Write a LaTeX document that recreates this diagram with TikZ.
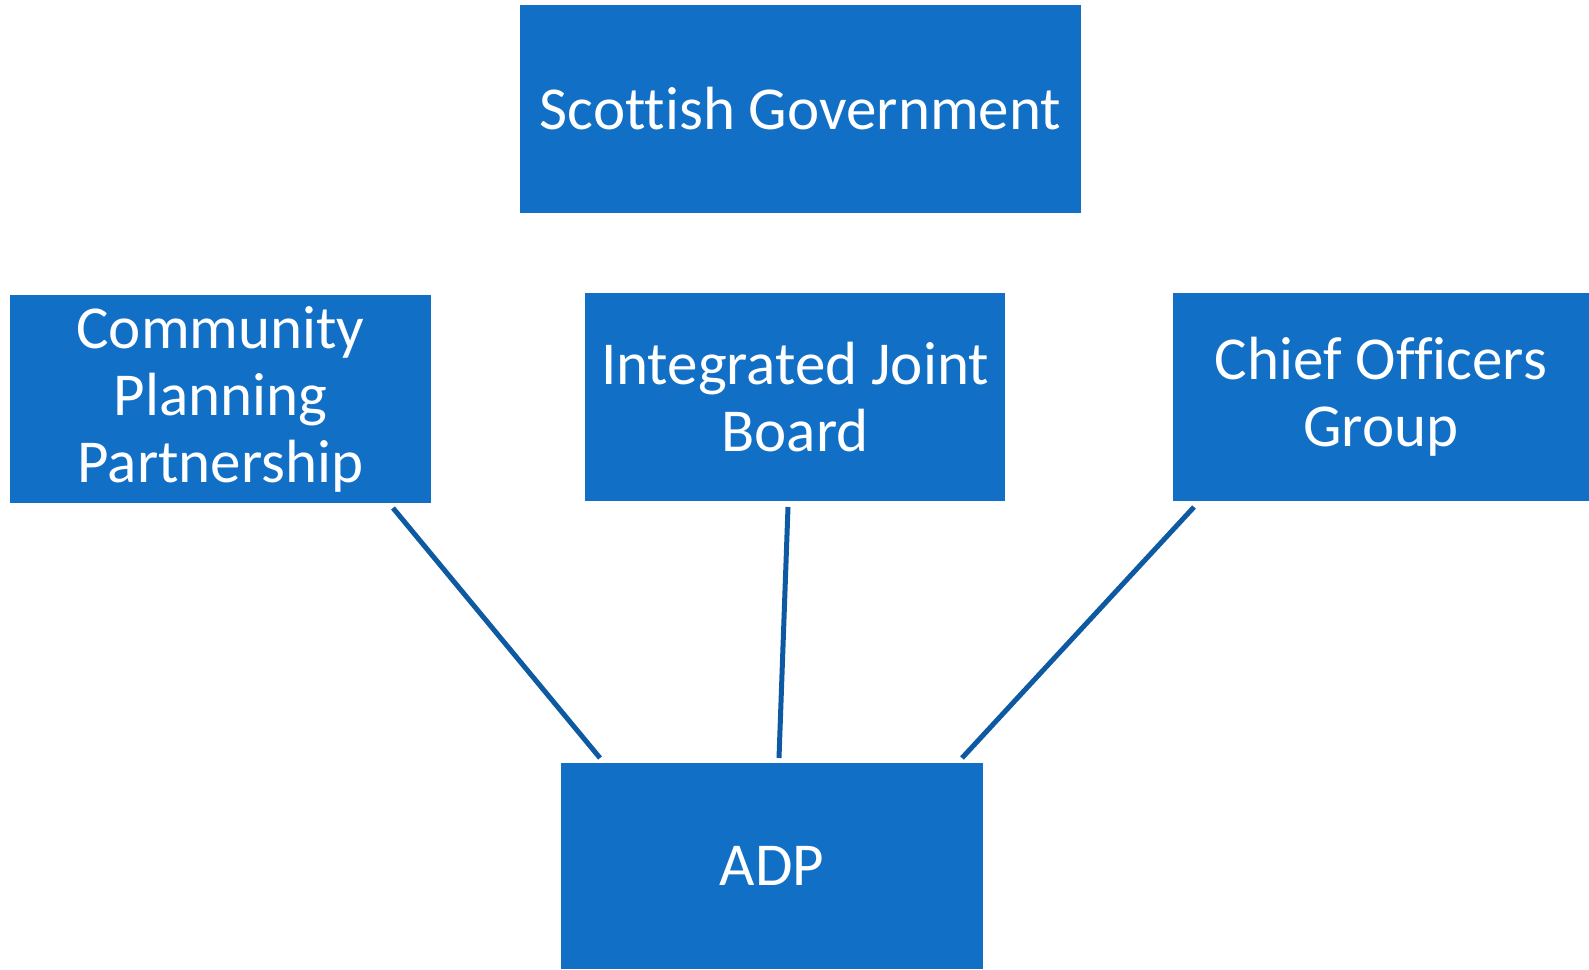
\documentclass[tikz,border=0pt]{standalone}
\usepackage{fontspec}
\setmainfont{Carlito}[Ligatures={NoCommon}]
\definecolor{boxblue}{RGB}{17,112,198}
\definecolor{lineblue}{RGB}{14,90,162}
\begin{document}
\begin{tikzpicture}[x=1pt,y=-1pt,
  orgbox/.style={fill=boxblue,draw=none,text=white,align=center,inner sep=0pt,
    font=\fontsize{61}{67}\selectfont},
  link/.style={draw=lineblue,line width=5pt}]
\useasboundingbox (0,0) rectangle (1589,969);
\fill[white] (0,0) rectangle (1589,969);
\node[orgbox,minimum width=561pt,minimum height=208pt] (sg) at (800.5,109) {Scottish Government};
\node[orgbox,minimum width=421pt,minimum height=208pt] (cpp) at (220.5,399) {Community\\Planning\\Partnership};
\node[orgbox,minimum width=420pt,minimum height=208pt] (ijb) at (795,397) {Integrated Joint\\Board};
\node[orgbox,minimum width=416pt,minimum height=208pt] (cog) at (1381,397) {Chief Officers\\Group};
\node[orgbox,minimum width=422pt,minimum height=206pt] (adp) at (772,866) {ADP};
\coordinate (c1a) at (393,508);
\coordinate (c1b) at (600,758);
\coordinate (c2a) at (788,507);
\coordinate (c2b) at (779,758);
\coordinate (c3a) at (1194,507);
\coordinate (c3b) at (962,758);
\draw[link] (c1a) -- (c1b);
\draw[link] (c2a) -- (c2b);
\draw[link] (c3a) -- (c3b);
\end{tikzpicture}
\end{document}
